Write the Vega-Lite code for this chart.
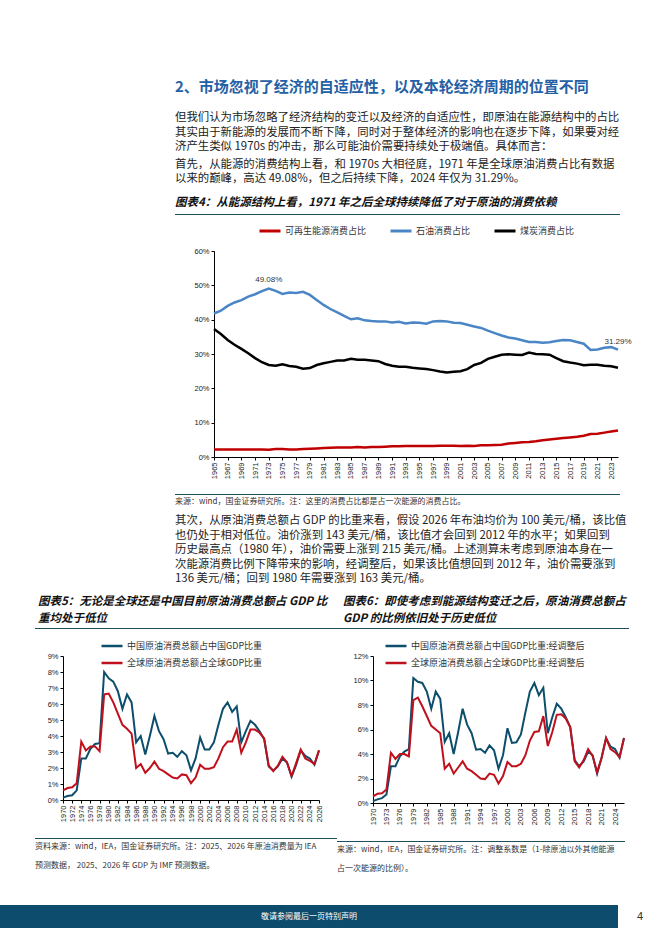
{
  "$schema": "https://vega.github.io/schema/vega-lite/v6.json",
  "padding": {"left": 0, "top": 80, "right": 0, "bottom": 0},
  "background": "white",
  "config": {
    "view": {"stroke": null},
    "font": "Noto Sans CJK SC",
    "axis": {"labelFont": "Liberation Sans", "labelFontSize": 7.5, "labelColor": "#222", "domainColor": "#000", "tickColor": "#000", "tickSize": 3, "grid": false, "title": null, "labelPadding": 2, "labelOverlap": false},
    "title": {"font": "Noto Sans CJK SC", "subtitleFont": "Noto Sans CJK SC", "anchor": "start", "frame": "bounds"},
    "legend": {"labelFont": "Noto Sans CJK SC", "labelColor": "#333", "title": null, "symbolType": "stroke", "symbolStrokeWidth": 3, "symbolSize": 441, "labelOffset": 3, "labelLimit": 400}
  },
  "datasets": {
    "energy": [
      {"year": 1965, "可再生能源消费占比": 2.2, "石油消费占比": 41.8, "煤炭消费占比": 37.3},
      {"year": 1966, "可再生能源消费占比": 2.2, "石油消费占比": 42.6, "煤炭消费占比": 35.8},
      {"year": 1967, "可再生能源消费占比": 2.2, "石油消费占比": 44.0, "煤炭消费占比": 34.1},
      {"year": 1968, "可再生能源消费占比": 2.2, "石油消费占比": 45.0, "煤炭消费占比": 32.7},
      {"year": 1969, "可再生能源消费占比": 2.2, "石油消费占比": 45.7, "煤炭消费占比": 31.5},
      {"year": 1970, "可再生能源消费占比": 2.2, "石油消费占比": 46.7, "煤炭消费占比": 30.2},
      {"year": 1971, "可再生能源消费占比": 2.2, "石油消费占比": 47.4, "煤炭消费占比": 28.8},
      {"year": 1972, "可再生能源消费占比": 2.2, "石油消费占比": 48.3, "煤炭消费占比": 27.6},
      {"year": 1973, "可再生能源消费占比": 2.1, "石油消费占比": 49.08, "煤炭消费占比": 26.8},
      {"year": 1974, "可再生能源消费占比": 2.3, "石油消费占比": 48.4, "煤炭消费占比": 26.6},
      {"year": 1975, "可再生能源消费占比": 2.3, "石油消费占比": 47.5, "煤炭消费占比": 27.0},
      {"year": 1976, "可再生能源消费占比": 2.2, "石油消费占比": 47.9, "煤炭消费占比": 26.5},
      {"year": 1977, "可再生能源消费占比": 2.2, "石油消费占比": 47.8, "煤炭消费占比": 26.3},
      {"year": 1978, "可再生能源消费占比": 2.3, "石油消费占比": 48.1, "煤炭消费占比": 25.7},
      {"year": 1979, "可再生能源消费占比": 2.4, "石油消费占比": 47.2, "煤炭消费占比": 25.9},
      {"year": 1980, "可再生能源消费占比": 2.5, "石油消费占比": 45.7, "煤炭消费占比": 26.8},
      {"year": 1981, "可再生能源消费占比": 2.6, "石油消费占比": 44.3, "煤炭消费占比": 27.3},
      {"year": 1982, "可再生能源消费占比": 2.7, "石油消费占比": 43.1, "煤炭消费占比": 27.7},
      {"year": 1983, "可再生能源消费占比": 2.8, "石油消费占比": 42.1, "煤炭消费占比": 28.1},
      {"year": 1984, "可再生能源消费占比": 2.8, "石油消费占比": 41.1, "煤炭消费占比": 28.1},
      {"year": 1985, "可再生能源消费占比": 2.8, "石油消费占比": 40.1, "煤炭消费占比": 28.6},
      {"year": 1986, "可再生能源消费占比": 2.9, "石油消费占比": 40.4, "煤炭消费占比": 28.3},
      {"year": 1987, "可再生能源消费占比": 2.8, "石油消费占比": 39.8, "煤炭消费占比": 28.3},
      {"year": 1988, "可再生能源消费占比": 2.9, "石油消费占比": 39.6, "煤炭消费占比": 28.1},
      {"year": 1989, "可再生能源消费占比": 2.9, "石油消费占比": 39.5, "煤炭消费占比": 27.9},
      {"year": 1990, "可再生能源消费占比": 3.0, "石油消费占比": 39.5, "煤炭消费占比": 27.1},
      {"year": 1991, "可再生能源消费占比": 3.1, "石油消费占比": 39.2, "煤炭消费占比": 26.6},
      {"year": 1992, "可再生能源消费占比": 3.1, "石油消费占比": 39.4, "煤炭消费占比": 26.3},
      {"year": 1993, "可再生能源消费占比": 3.2, "石油消费占比": 38.9, "煤炭消费占比": 26.3},
      {"year": 1994, "可再生能源消费占比": 3.2, "石油消费占比": 39.2, "煤炭消费占比": 26.0},
      {"year": 1995, "可再生能源消费占比": 3.2, "石油消费占比": 39.1, "煤炭消费占比": 25.8},
      {"year": 1996, "可再生能源消费占比": 3.2, "石油消费占比": 38.8, "煤炭消费占比": 25.6},
      {"year": 1997, "可再生能源消费占比": 3.2, "石油消费占比": 39.5, "煤炭消费占比": 25.3},
      {"year": 1998, "可再生能源消费占比": 3.3, "石油消费占比": 39.6, "煤炭消费占比": 24.9},
      {"year": 1999, "可再生能源消费占比": 3.3, "石油消费占比": 39.5, "煤炭消费占比": 24.6},
      {"year": 2000, "可再生能源消费占比": 3.3, "石油消费占比": 39.1, "煤炭消费占比": 24.8},
      {"year": 2001, "可再生能源消费占比": 3.2, "石油消费占比": 39.0, "煤炭消费占比": 25.0},
      {"year": 2002, "可再生能源消费占比": 3.3, "石油消费占比": 38.5, "煤炭消费占比": 25.6},
      {"year": 2003, "可再生能源消费占比": 3.2, "石油消费占比": 38.0, "煤炭消费占比": 26.8},
      {"year": 2004, "可再生能源消费占比": 3.4, "石油消费占比": 37.6, "煤炭消费占比": 27.4},
      {"year": 2005, "可再生能源消费占比": 3.4, "石油消费占比": 36.8, "煤炭消费占比": 28.6},
      {"year": 2006, "可再生能源消费占比": 3.5, "石油消费占比": 36.1, "煤炭消费占比": 29.2},
      {"year": 2007, "可再生能源消费占比": 3.6, "石油消费占比": 35.4, "煤炭消费占比": 29.8},
      {"year": 2008, "可再生能源消费占比": 3.9, "石油消费占比": 34.8, "煤炭消费占比": 29.9},
      {"year": 2009, "可再生能源消费占比": 4.1, "石油消费占比": 34.5, "煤炭消费占比": 29.8},
      {"year": 2010, "可再生能源消费占比": 4.3, "石油消费占比": 34.0, "煤炭消费占比": 29.7},
      {"year": 2011, "可再生能源消费占比": 4.4, "石油消费占比": 33.5, "煤炭消费占比": 30.4},
      {"year": 2012, "可再生能源消费占比": 4.6, "石油消费占比": 33.5, "煤炭消费占比": 30.0},
      {"year": 2013, "可再生能源消费占比": 4.9, "石油消费占比": 33.3, "煤炭消费占比": 29.9},
      {"year": 2014, "可再生能源消费占比": 5.1, "石油消费占比": 33.4, "煤炭消费占比": 29.8},
      {"year": 2015, "可再生能源消费占比": 5.3, "石油消费占比": 33.8, "煤炭消费占比": 28.8},
      {"year": 2016, "可再生能源消费占比": 5.5, "石油消费占比": 34.1, "煤炭消费占比": 27.9},
      {"year": 2017, "可再生能源消费占比": 5.7, "石油消费占比": 34.0, "煤炭消费占比": 27.5},
      {"year": 2018, "可再生能源消费占比": 5.9, "石油消费占比": 33.5, "煤炭消费占比": 27.2},
      {"year": 2019, "可再生能源消费占比": 6.2, "石油消费占比": 33.0, "煤炭消费占比": 26.7},
      {"year": 2020, "可再生能源消费占比": 6.7, "石油消费占比": 31.2, "煤炭消费占比": 26.9},
      {"year": 2021, "可再生能源消费占比": 6.8, "石油消费占比": 31.3, "煤炭消费占比": 26.9},
      {"year": 2022, "可再生能源消费占比": 7.1, "石油消费占比": 31.8, "煤炭消费占比": 26.6},
      {"year": 2023, "可再生能源消费占比": 7.4, "石油消费占比": 32.0, "煤炭消费占比": 26.4},
      {"year": 2024, "可再生能源消费占比": 7.7, "石油消费占比": 31.29, "煤炭消费占比": 26.0}
    ],
    "energyLabels": [
      {"year": 1973, "value": 49.08, "label": "49.08%"},
      {"year": 2024, "value": 31.29, "label": "31.29%"}
    ],
    "gdp5": [
      {"year": 1970, "中国原油消费总额占中国GDP比重": 0.15, "全球原油消费总额占全球GDP比重": 0.6},
      {"year": 1971, "中国原油消费总额占中国GDP比重": 0.25, "全球原油消费总额占全球GDP比重": 0.75},
      {"year": 1972, "中国原油消费总额占中国GDP比重": 0.3, "全球原油消费总额占全球GDP比重": 0.8},
      {"year": 1973, "中国原油消费总额占中国GDP比重": 0.6, "全球原油消费总额占全球GDP比重": 1.05},
      {"year": 1974, "中国原油消费总额占中国GDP比重": 2.6, "全球原油消费总额占全球GDP比重": 3.65},
      {"year": 1975, "中国原油消费总额占中国GDP比重": 2.6, "全球原油消费总额占全球GDP比重": 3.1},
      {"year": 1976, "中国原油消费总额占中国GDP比重": 3.2, "全球原油消费总额占全球GDP比重": 3.35},
      {"year": 1977, "中国原油消费总额占中国GDP比重": 3.5, "全球原油消费总额占全球GDP比重": 3.35},
      {"year": 1978, "中国原油消费总额占中国GDP比重": 3.55, "全球原油消费总额占全球GDP比重": 3.05},
      {"year": 1979, "中国原油消费总额占中国GDP比重": 8.0, "全球原油消费总额占全球GDP比重": 6.6},
      {"year": 1980, "中国原油消费总额占中国GDP比重": 7.6, "全球原油消费总额占全球GDP比重": 6.65},
      {"year": 1981, "中国原油消费总额占中国GDP比重": 7.4, "全球原油消费总额占全球GDP比重": 6.1},
      {"year": 1982, "中国原油消费总额占中国GDP比重": 6.8, "全球原油消费总额占全球GDP比重": 5.4},
      {"year": 1983, "中国原油消费总额占中国GDP比重": 5.7, "全球原油消费总额占全球GDP比重": 4.7},
      {"year": 1984, "中国原油消费总额占中国GDP比重": 6.6, "全球原油消费总额占全球GDP比重": 4.45},
      {"year": 1985, "中国原油消费总额占中国GDP比重": 6.1, "全球原油消费总额占全球GDP比重": 4.15},
      {"year": 1986, "中国原油消费总额占中国GDP比重": 3.6, "全球原油消费总额占全球GDP比重": 2.0},
      {"year": 1987, "中国原油消费总额占中国GDP比重": 4.0, "全球原油消费总额占全球GDP比重": 2.25},
      {"year": 1988, "中国原油消费总额占中国GDP比重": 2.85, "全球原油消费总额占全球GDP比重": 1.7},
      {"year": 1989, "中国原油消费总额占中国GDP比重": 4.0, "全球原油消费总额占全球GDP比重": 2.0},
      {"year": 1990, "中国原油消费总额占中国GDP比重": 5.25, "全球原油消费总额占全球GDP比重": 2.4},
      {"year": 1991, "中国原油消费总额占中国GDP比重": 4.3, "全球原油消费总额占全球GDP比重": 1.95},
      {"year": 1992, "中国原油消费总额占中国GDP比重": 3.8, "全球原油消费总额占全球GDP比重": 1.8},
      {"year": 1993, "中国原油消费总额占中国GDP比重": 2.9, "全球原油消费总额占全球GDP比重": 1.6},
      {"year": 1994, "中国原油消费总额占中国GDP比重": 2.95, "全球原油消费总额占全球GDP比重": 1.4},
      {"year": 1995, "中国原油消费总额占中国GDP比重": 2.7, "全球原油消费总额占全球GDP比重": 1.35},
      {"year": 1996, "中国原油消费总额占中国GDP比重": 3.05, "全球原油消费总额占全球GDP比重": 1.6},
      {"year": 1997, "中国原油消费总额占中国GDP比重": 2.8, "全球原油消费总额占全球GDP比重": 1.55},
      {"year": 1998, "中国原油消费总额占中国GDP比重": 1.85, "全球原油消费总额占全球GDP比重": 1.05},
      {"year": 1999, "中国原油消费总额占中国GDP比重": 2.6, "全球原油消费总额占全球GDP比重": 1.4},
      {"year": 2000, "中国原油消费总额占中国GDP比重": 3.9, "全球原油消费总额占全球GDP比重": 2.2},
      {"year": 2001, "中国原油消费总额占中国GDP比重": 3.15, "全球原油消费总额占全球GDP比重": 1.95},
      {"year": 2002, "中国原油消费总额占中国GDP比重": 3.15, "全球原油消费总额占全球GDP比重": 1.95},
      {"year": 2003, "中国原油消费总额占中国GDP比重": 3.6, "全球原油消费总额占全球GDP比重": 2.05},
      {"year": 2004, "中国原油消费总额占中国GDP比重": 4.7, "全球原油消费总额占全球GDP比重": 2.6},
      {"year": 2005, "中国原油消费总额占中国GDP比重": 5.7, "全球原油消费总额占全球GDP比重": 3.3},
      {"year": 2006, "中国原油消费总额占中国GDP比重": 6.1, "全球原油消费总额占全球GDP比重": 3.65},
      {"year": 2007, "中国原油消费总额占中国GDP比重": 5.5, "全球原油消费总额占全球GDP比重": 3.65},
      {"year": 2008, "中国原油消费总额占中国GDP比重": 5.85, "全球原油消费总额占全球GDP比重": 4.4},
      {"year": 2009, "中国原油消费总额占中国GDP比重": 3.6, "全球原油消费总额占全球GDP比重": 2.95},
      {"year": 2010, "中国原油消费总额占中国GDP比重": 4.3, "全球原油消费总额占全球GDP比重": 3.6},
      {"year": 2011, "中国原油消费总额占中国GDP比重": 4.95, "全球原油消费总额占全球GDP比重": 4.4},
      {"year": 2012, "中国原油消费总额占中国GDP比重": 4.7, "全球原油消费总额占全球GDP比重": 4.4},
      {"year": 2013, "中国原油消费总额占中国GDP比重": 4.3, "全球原油消费总额占全球GDP比重": 4.2},
      {"year": 2014, "中国原油消费总额占中国GDP比重": 3.8, "全球原油消费总额占全球GDP比重": 3.85},
      {"year": 2015, "中国原油消费总额占中国GDP比重": 2.1, "全球原油消费总额占全球GDP比重": 2.15},
      {"year": 2016, "中国原油消费总额占中国GDP比重": 1.85, "全球原油消费总额占全球GDP比重": 1.8},
      {"year": 2017, "中国原油消费总额占中国GDP比重": 2.1, "全球原油消费总额占全球GDP比重": 2.15},
      {"year": 2018, "中国原油消费总额占中国GDP比重": 2.6, "全球原油消费总额占全球GDP比重": 2.7},
      {"year": 2019, "中国原油消费总额占中国GDP比重": 2.35, "全球原油消费总额占全球GDP比重": 2.35},
      {"year": 2020, "中国原油消费总额占中国GDP比重": 1.45, "全球原油消费总额占全球GDP比重": 1.5},
      {"year": 2021, "中国原油消费总额占中国GDP比重": 2.2, "全球原油消费总额占全球GDP比重": 2.3},
      {"year": 2022, "中国原油消费总额占中国GDP比重": 3.1, "全球原油消费总额占全球GDP比重": 3.15},
      {"year": 2023, "中国原油消费总额占中国GDP比重": 2.75, "全球原油消费总额占全球GDP比重": 2.6},
      {"year": 2024, "中国原油消费总额占中国GDP比重": 2.6, "全球原油消费总额占全球GDP比重": 2.45},
      {"year": 2025, "中国原油消费总额占中国GDP比重": 2.2, "全球原油消费总额占全球GDP比重": 2.25},
      {"year": 2026, "中国原油消费总额占中国GDP比重": 3.1, "全球原油消费总额占全球GDP比重": 3.1}
    ],
    "gdp6": [
      {"year": 1970, "中国原油消费总额占中国GDP比重:经调整后": 0.15, "全球原油消费总额占全球GDP比重:经调整后": 0.55},
      {"year": 1971, "中国原油消费总额占中国GDP比重:经调整后": 0.3, "全球原油消费总额占全球GDP比重:经调整后": 0.75},
      {"year": 1972, "中国原油消费总额占中国GDP比重:经调整后": 0.4, "全球原油消费总额占全球GDP比重:经调整后": 0.8},
      {"year": 1973, "中国原油消费总额占中国GDP比重:经调整后": 0.7, "全球原油消费总额占全球GDP比重:经调整后": 1.1},
      {"year": 1974, "中国原油消费总额占中国GDP比重:经调整后": 3.0, "全球原油消费总额占全球GDP比重:经调整后": 4.1},
      {"year": 1975, "中国原油消费总额占中国GDP比重:经调整后": 3.0, "全球原油消费总额占全球GDP比重:经调整后": 3.6},
      {"year": 1976, "中国原油消费总额占中国GDP比重:经调整后": 3.8, "全球原油消费总额占全球GDP比重:经调整后": 4.0},
      {"year": 1977, "中国原油消费总额占中国GDP比重:经调整后": 4.2, "全球原油消费总额占全球GDP比重:经调整后": 4.0},
      {"year": 1978, "中国原油消费总额占中国GDP比重:经调整后": 4.4, "全球原油消费总额占全球GDP比重:经调整后": 3.8},
      {"year": 1979, "中国原油消费总额占中国GDP比重:经调整后": 10.2, "全球原油消费总额占全球GDP比重:经调整后": 8.4},
      {"year": 1980, "中国原油消费总额占中国GDP比重:经调整后": 9.9, "全球原油消费总额占全球GDP比重:经调整后": 8.6},
      {"year": 1981, "中国原油消费总额占中国GDP比重:经调整后": 9.8, "全球原油消费总额占全球GDP比重:经调整后": 7.9},
      {"year": 1982, "中国原油消费总额占中国GDP比重:经调整后": 9.1, "全球原油消费总额占全球GDP比重:经调整后": 7.1},
      {"year": 1983, "中国原油消费总额占中国GDP比重:经调整后": 7.7, "全球原油消费总额占全球GDP比重:经调整后": 6.3},
      {"year": 1984, "中国原油消费总额占中国GDP比重:经调整后": 9.1, "全球原油消费总额占全球GDP比重:经调整后": 6.0},
      {"year": 1985, "中国原油消费总额占中国GDP比重:经调整后": 8.5, "全球原油消费总额占全球GDP比重:经调整后": 5.7},
      {"year": 1986, "中国原油消费总额占中国GDP比重:经调整后": 5.0, "全球原油消费总额占全球GDP比重:经调整后": 2.8},
      {"year": 1987, "中国原油消费总额占中国GDP比重:经调整后": 5.7, "全球原油消费总额占全球GDP比重:经调整后": 3.2},
      {"year": 1988, "中国原油消费总额占中国GDP比重:经调整后": 4.0, "全球原油消费总额占全球GDP比重:经调整后": 2.4},
      {"year": 1989, "中国原油消费总额占中国GDP比重:经调整后": 5.8, "全球原油消费总额占全球GDP比重:经调整后": 2.9},
      {"year": 1990, "中国原油消费总额占中国GDP比重:经调整后": 7.7, "全球原油消费总额占全球GDP比重:经调整后": 3.4},
      {"year": 1991, "中国原油消费总额占中国GDP比重:经调整后": 6.4, "全球原油消费总额占全球GDP比重:经调整后": 2.8},
      {"year": 1992, "中国原油消费总额占中国GDP比重:经调整后": 5.7, "全球原油消费总额占全球GDP比重:经调整后": 2.6},
      {"year": 1993, "中国原油消费总额占中国GDP比重:经调整后": 4.35, "全球原油消费总额占全球GDP比重:经调整后": 2.3},
      {"year": 1994, "中国原油消费总额占中国GDP比重:经调整后": 4.4, "全球原油消费总额占全球GDP比重:经调整后": 2.0},
      {"year": 1995, "中国原油消费总额占中国GDP比重:经调整后": 4.1, "全球原油消费总额占全球GDP比重:经调整后": 1.95},
      {"year": 1996, "中国原油消费总额占中国GDP比重:经调整后": 4.7, "全球原油消费总额占全球GDP比重:经调整后": 2.4},
      {"year": 1997, "中国原油消费总额占中国GDP比重:经调整后": 4.3, "全球原油消费总额占全球GDP比重:经调整后": 2.3},
      {"year": 1998, "中国原油消费总额占中国GDP比重:经调整后": 2.8, "全球原油消费总额占全球GDP比重:经调整后": 1.6},
      {"year": 1999, "中国原油消费总额占中国GDP比重:经调整后": 3.9, "全球原油消费总额占全球GDP比重:经调整后": 2.2},
      {"year": 2000, "中国原油消费总额占中国GDP比重:经调整后": 6.1, "全球原油消费总额占全球GDP比重:经调整后": 3.35},
      {"year": 2001, "中国原油消费总额占中国GDP比重:经调整后": 4.9, "全球原油消费总额占全球GDP比重:经调整后": 3.0},
      {"year": 2002, "中国原油消费总额占中国GDP比重:经调整后": 4.95, "全球原油消费总额占全球GDP比重:经调整后": 3.0},
      {"year": 2003, "中国原油消费总额占中国GDP比重:经调整后": 5.6, "全球原油消费总额占全球GDP比重:经调整后": 3.2},
      {"year": 2004, "中国原油消费总额占中国GDP比重:经调整后": 7.4, "全球原油消费总额占全球GDP比重:经调整后": 3.9},
      {"year": 2005, "中国原油消费总额占中国GDP比重:经调整后": 9.1, "全球原油消费总额占全球GDP比重:经调整后": 5.1},
      {"year": 2006, "中国原油消费总额占中国GDP比重:经调整后": 9.8, "全球原油消费总额占全球GDP比重:经调整后": 5.8},
      {"year": 2007, "中国原油消费总额占中国GDP比重:经调整后": 8.8, "全球原油消费总额占全球GDP比重:经调整后": 5.85},
      {"year": 2008, "中国原油消费总额占中国GDP比重:经调整后": 9.4, "全球原油消费总额占全球GDP比重:经调整后": 7.1},
      {"year": 2009, "中国原油消费总额占中国GDP比重:经调整后": 5.7, "全球原油消费总额占全球GDP比重:经调整后": 4.65},
      {"year": 2010, "中国原油消费总额占中国GDP比重:经调整后": 7.0, "全球原油消费总额占全球GDP比重:经调整后": 5.8},
      {"year": 2011, "中国原油消费总额占中国GDP比重:经调整后": 8.1, "全球原油消费总额占全球GDP比重:经调整后": 7.2},
      {"year": 2012, "中国原油消费总额占中国GDP比重:经调整后": 7.7, "全球原油消费总额占全球GDP比重:经调整后": 7.25},
      {"year": 2013, "中国原油消费总额占中国GDP比重:经调整后": 7.0, "全球原油消费总额占全球GDP比重:经调整后": 6.9},
      {"year": 2014, "中国原油消费总额占中国GDP比重:经调整后": 6.2, "全球原油消费总额占全球GDP比重:经调整后": 6.2},
      {"year": 2015, "中国原油消费总额占中国GDP比重:经调整后": 3.5, "全球原油消费总额占全球GDP比重:经调整后": 3.4},
      {"year": 2016, "中国原油消费总额占中国GDP比重:经调整后": 3.0, "全球原油消费总额占全球GDP比重:经调整后": 2.9},
      {"year": 2017, "中国原油消费总额占中国GDP比重:经调整后": 3.4, "全球原油消费总额占全球GDP比重:经调整后": 3.5},
      {"year": 2018, "中国原油消费总额占中国GDP比重:经调整后": 4.2, "全球原油消费总额占全球GDP比重:经调整后": 4.4},
      {"year": 2019, "中国原油消费总额占中国GDP比重:经调整后": 3.9, "全球原油消费总额占全球GDP比重:经调整后": 3.85},
      {"year": 2020, "中国原油消费总额占中国GDP比重:经调整后": 2.4, "全球原油消费总额占全球GDP比重:经调整后": 2.5},
      {"year": 2021, "中国原油消费总额占中国GDP比重:经调整后": 3.7, "全球原油消费总额占全球GDP比重:经调整后": 3.7},
      {"year": 2022, "中国原油消费总额占中国GDP比重:经调整后": 5.3, "全球原油消费总额占全球GDP比重:经调整后": 5.3},
      {"year": 2023, "中国原油消费总额占中国GDP比重:经调整后": 4.6, "全球原油消费总额占全球GDP比重:经调整后": 4.4},
      {"year": 2024, "中国原油消费总额占中国GDP比重:经调整后": 4.4, "全球原油消费总额占全球GDP比重:经调整后": 4.15},
      {"year": 2025, "中国原油消费总额占中国GDP比重:经调整后": 3.7, "全球原油消费总额占全球GDP比重:经调整后": 3.75},
      {"year": 2026, "中国原油消费总额占中国GDP比重:经调整后": 5.3, "全球原油消费总额占全球GDP比重:经调整后": 5.3}
    ]
  },
  "resolve": {"scale": {"color": "independent"}, "legend": {"color": "independent"}},
  "vconcat": [
    {
      "resolve": {"scale": {"color": "independent"}, "legend": {"color": "independent"}},
      "vconcat": [
        {
          "resolve": {"scale": {"color": "independent"}, "legend": {"color": "independent"}},
          "hconcat": [
            {"width": 175, "height": 1, "data": {"values": []}, "mark": "point"},
            {
              "title": {
                "text": "2、市场忽视了经济的自适应性，以及本轮经济周期的位置不同",
                "subtitle": [
                  "但我们认为市场忽略了经济结构的变迁以及经济的自适应性，即原油在能源结构中的占比",
                  "其实由于新能源的发展而不断下降，同时对于整体经济的影响也在逐步下降，如果要对经",
                  "济产生类似 1970s 的冲击，那么可能油价需要持续处于极端值。具体而言："
                ],
                "fontSize": 15, "fontWeight": "bold", "color": "#2360a5",
                "subtitleFontSize": 11.4, "subtitleColor": "#222", "subtitleLineHeight": 14.5, "subtitlePadding": 17, "offset": 6
              },
              "resolve": {"scale": {"color": "independent"}, "legend": {"color": "independent"}},
              "vconcat": [
                {
                  "width": 445, "height": 1,
                  "view": {"fill": "#1f4e5f", "stroke": null},
                  "data": {"values": []}, "mark": "point",
                  "title": {
                    "text": [
                      "首先，从能源的消费结构上看，和 1970s 大相径庭，1971 年是全球原油消费占比有数据",
                      "以来的巅峰，高达 49.08%，但之后持续下降，2024 年仅为 31.29%。"
                    ],
                    "subtitle": "图表4：从能源结构上看，1971 年之后全球持续降低了对于原油的消费依赖",
                    "fontSize": 11.4, "fontWeight": "normal", "color": "#222", "lineHeight": 14.5,
                    "subtitleFontSize": 11.5, "subtitleFontWeight": "bold", "subtitleFontStyle": "italic", "subtitleColor": "#111",
                    "subtitlePadding": 12, "offset": 6
                  }
                },
                {
                  "resolve": {"scale": {"color": "independent"}, "legend": {"color": "independent"}},
                  "vconcat": [
                    {
                      "width": 443, "height": 206,
                      "encoding": {
                        "x": {"field": "year", "type": "quantitative", "scale": {"domain": [1965, 2024], "nice": false, "zero": false, "range": [39, 443]},
                          "axis": {"values": [1965,1967,1969,1971,1973,1975,1977,1979,1981,1983,1985,1987,1989,1991,1993,1995,1997,1999,2001,2003,2005,2007,2009,2011,2013,2015,2017,2019,2021,2023], "format": "d", "labelAngle": 270, "labelFlush": false, "labelOverlap": false}},
                        "y": {"field": "value", "type": "quantitative", "scale": {"domain": [0, 60], "nice": false},
                          "axis": {"values": [0,10,20,30,40,50,60], "labelExpr": "datum.value + '%'", "offset": -39, "minExtent": 0, "labelOverlap": false}}
                      },
                      "layer": [
                        {
                          "data": {"name": "energy"},
                          "transform": [{"fold": ["可再生能源消费占比", "石油消费占比", "煤炭消费占比"], "as": ["series", "value"]}],
                          "mark": {"type": "line", "strokeWidth": 2.5},
                          "encoding": {
                            "color": {"field": "series", "type": "nominal",
                              "scale": {"domain": ["可再生能源消费占比", "石油消费占比", "煤炭消费占比"], "range": ["#c00000", "#4a86c6", "#000000"]},
                              "legend": {"orient": "none", "legendX": 83, "legendY": -32, "direction": "horizontal", "labelFontSize": 9, "columnPadding": 17}}
                          }
                        },
                        {
                          "data": {"name": "energyLabels"},
                          "mark": {"type": "text", "font": "Liberation Sans", "fontSize": 8, "color": "#333", "dy": -8},
                          "encoding": {"text": {"field": "label"}}
                        }
                      ]
                    },
                    {
                      "width": 445, "height": 1,
                      "view": {"fill": "#1f4e5f", "stroke": null},
                      "data": {"values": []}, "mark": "point",
                      "title": {"text": "来源：wind，国金证券研究所。注：这里的消费占比都是占一次能源的消费占比。", "orient": "bottom", "fontSize": 8, "fontWeight": "normal", "color": "#333", "offset": 3}
                    }
                  ],
                  "spacing": 15
                }
              ],
              "spacing": 4
            }
          ],
          "spacing": 0
        },
        {
          "title": {
            "text": [
              "其次，从原油消费总额占 GDP 的比重来看，假设 2026 年布油均价为 100 美元/桶，该比值",
              "也仍处于相对低位。油价涨到 143 美元/桶，该比值才会回到 2012 年的水平；如果回到",
              "历史最高点（1980 年），油价需要上涨到 215 美元/桶。上述测算未考虑到原油本身在一",
              "次能源消费比例下降带来的影响，经调整后，如果该比值想回到 2012 年，油价需要涨到",
              "136 美元/桶；回到 1980 年需要涨到 163 美元/桶。"
            ],
            "fontSize": 11.4, "fontWeight": "normal", "color": "#222", "lineHeight": 14.5, "dx": 175, "offset": 11
          },
          "resolve": {"scale": {"color": "independent"}, "legend": {"color": "independent"}},
          "hconcat": [
            {"width": 35, "height": 1, "data": {"values": []}, "mark": "point"},
            {
              "resolve": {"scale": {"color": "independent"}, "legend": {"color": "independent"}},
              "vconcat": [
                {
                  "width": 302, "height": 1,
                  "view": {"fill": "#1f4e5f", "stroke": null},
                  "data": {"values": []}, "mark": "point",
                  "title": {
                    "text": ["图表5：无论是全球还是中国目前原油消费总额占 GDP 比", "重均处于低位"],
                    "fontSize": 11.5, "fontWeight": "bold", "fontStyle": "italic", "color": "#111", "lineHeight": 17, "offset": 4, "dx": 3
                  }
                },
                {
                  "resolve": {"scale": {"color": "independent"}, "legend": {"color": "independent"}},
                  "vconcat": [
                    {
                      "width": 284, "height": 144,
                      "data": {"name": "gdp5"},
                      "transform": [{"fold": ["中国原油消费总额占中国GDP比重", "全球原油消费总额占全球GDP比重"], "as": ["series", "value"]}],
                      "mark": {"type": "line", "strokeWidth": 2},
                      "encoding": {
                        "x": {"field": "year", "type": "quantitative", "scale": {"domain": [1970, 2026], "nice": false, "zero": false, "range": [28, 284]},
                          "axis": {"values": [1970,1972,1974,1976,1978,1980,1982,1984,1986,1988,1990,1992,1994,1996,1998,2000,2002,2004,2006,2008,2010,2012,2014,2016,2018,2020,2022,2024,2026], "format": "d", "labelAngle": 270, "labelFlush": false, "labelOverlap": false}},
                        "y": {"field": "value", "type": "quantitative", "scale": {"domain": [0, 9], "nice": false},
                          "axis": {"values": [0,1,2,3,4,5,6,7,8,9], "labelExpr": "datum.value + '%'", "offset": -28, "minExtent": 0, "labelOverlap": false}},
                        "color": {"field": "series", "type": "nominal",
                          "scale": {"domain": ["中国原油消费总额占中国GDP比重", "全球原油消费总额占全球GDP比重"], "range": ["#0d4e6c", "#c0101c"]},
                          "legend": {"orient": "none", "legendX": 65, "legendY": -22, "direction": "vertical", "labelFontSize": 9, "rowPadding": -4, "symbolStrokeWidth": 2.5}}
                      }
                    },
                    {
                      "width": 302, "height": 1,
                      "view": {"fill": "#1f4e5f", "stroke": null},
                      "data": {"values": []}, "mark": "point",
                      "title": {
                        "text": ["资料来源：wind，IEA，国金证券研究所。注：2025、2026 年原油消费量为 IEA", "预测数据， 2025、2026 年 GDP 为 IMF 预测数据。"],
                        "orient": "bottom", "fontSize": 8, "fontWeight": "normal", "color": "#333", "lineHeight": 19, "offset": 4
                      }
                    }
                  ],
                  "spacing": 16
                }
              ],
              "spacing": 5
            },
            {
              "resolve": {"scale": {"color": "independent"}, "legend": {"color": "independent"}},
              "vconcat": [
                {
                  "width": 292, "height": 1,
                  "view": {"fill": "#1f4e5f", "stroke": null},
                  "data": {"values": []}, "mark": "point",
                  "title": {
                    "text": ["图表6：即使考虑到能源结构变迁之后，原油消费总额占", "GDP 的比例依旧处于历史低位"],
                    "fontSize": 11.5, "fontWeight": "bold", "fontStyle": "italic", "color": "#111", "lineHeight": 17, "offset": 4, "dx": 6
                  }
                },
                {
                  "resolve": {"scale": {"color": "independent"}, "legend": {"color": "independent"}},
                  "vconcat": [
                    {
                      "width": 287, "height": 147,
                      "data": {"name": "gdp6"},
                      "transform": [{"fold": ["中国原油消费总额占中国GDP比重:经调整后", "全球原油消费总额占全球GDP比重:经调整后"], "as": ["series", "value"]}],
                      "mark": {"type": "line", "strokeWidth": 2},
                      "encoding": {
                        "x": {"field": "year", "type": "quantitative", "scale": {"domain": [1970, 2026], "nice": false, "zero": false, "range": [36, 287]},
                          "axis": {"values": [1970,1973,1976,1979,1982,1985,1988,1991,1994,1997,2000,2003,2006,2009,2012,2015,2018,2021,2024], "format": "d", "labelAngle": 270, "labelFlush": false, "labelOverlap": false}},
                        "y": {"field": "value", "type": "quantitative", "scale": {"domain": [0, 12], "nice": false},
                          "axis": {"values": [0,2,4,6,8,10,12], "labelExpr": "datum.value + '%'", "offset": -36, "minExtent": 0, "labelOverlap": false}},
                        "color": {"field": "series", "type": "nominal",
                          "scale": {"domain": ["中国原油消费总额占中国GDP比重:经调整后", "全球原油消费总额占全球GDP比重:经调整后"], "range": ["#0d4e6c", "#c0101c"]},
                          "legend": {"orient": "none", "legendX": 47, "legendY": -22, "direction": "vertical", "labelFontSize": 9, "rowPadding": -4, "symbolStrokeWidth": 2.5}}
                      }
                    },
                    {
                      "width": 288, "height": 1,
                      "view": {"fill": "#1f4e5f", "stroke": null},
                      "data": {"values": []}, "mark": "point",
                      "title": {
                        "text": ["来源：wind，IEA，国金证券研究所。注：调整系数是（1-除原油以外其他能源", "占一次能源的比例）。"],
                        "orient": "bottom", "fontSize": 8, "fontWeight": "normal", "color": "#333", "lineHeight": 19, "offset": 4
                      }
                    }
                  ],
                  "spacing": 16
                }
              ],
              "spacing": 5
            }
          ],
          "spacing": 0
        }
      ],
      "spacing": 9
    },
    {
      "hconcat": [
        {
          "width": 618, "height": 23,
          "view": {"fill": "#0d4c6d", "stroke": null},
          "data": {"values": [{"t": "敬请参阅最后一页特别声明"}]},
          "mark": {"type": "text", "color": "white", "fontSize": 8, "font": "Noto Sans CJK SC"},
          "encoding": {"text": {"field": "t"}}
        },
        {
          "width": 44, "height": 23,
          "data": {"values": [{"t": "4"}]},
          "mark": {"type": "text", "color": "#333", "fontSize": 11, "font": "Liberation Sans"},
          "encoding": {"text": {"field": "t"}}
        }
      ],
      "spacing": 0
    }
  ],
  "spacing": 32
}
